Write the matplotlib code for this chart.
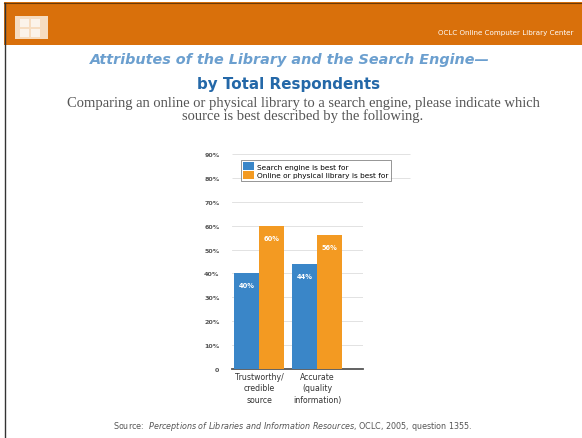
import matplotlib.pyplot as plt
from matplotlib.patches import Rectangle

categories = ['Trustworthy/\ncredible\nsource', 'Accurate\n(quality\ninformation)']
search_engine = [40, 44]
library = [60, 56]
series_names = ['Search engine is best for', 'Online or physical library is best for']
yticks = [0, 10, 20, 30, 40, 50, 60, 70, 80, 90]
ytick_labels = ['0'] + ['%d%%' % t for t in yticks[1:]]

W, H = 582, 439
fig = plt.figure(figsize=(W / 100, H / 100), dpi=100)
fig.patch.set_facecolor('white')

def px(x, y):
    return x / W, 1 - y / H

# header band
fig.patches.append(Rectangle(px(4, 46), (W - 4) / W, 43 / H, transform=fig.transFigure,
                             facecolor='#d9700b', edgecolor='none', zorder=0))
fig.add_artist(plt.Line2D([4 / W, 1], [1 - 3.5 / H] * 2, color='#6b3a08', lw=0.8))
fig.add_artist(plt.Line2D([5 / W, 5 / W], [0, 1 - 4 / H], color='#333333', lw=1.0))
fig.patches.append(Rectangle(px(15, 40), 33 / W, 23 / H, transform=fig.transFigure,
                             facecolor='#f6dcc0', edgecolor='none', zorder=1))
for gx in (20, 31):
    for gy in (20, 30):
        fig.patches.append(Rectangle(px(gx, gy + 8), 9 / W, 8 / H, transform=fig.transFigure,
                                     facecolor='#fbf3ea', edgecolor='none', zorder=2))
fig.text(*px(574, 33), 'OCLC Online Computer Library Center', color='white',
         fontsize=5.1, ha='right', va='center')

# titles
fig.text(*px(290, 60), 'Attributes of the Library and the Search Engine\u2014', color='#6b9fcf',
         fontsize=10.4, fontweight='bold', style='italic', ha='center', va='center')
fig.text(*px(289, 84), 'by Total Respondents', color='#2468a8',
         fontsize=10.9, fontweight='bold', ha='center', va='center')
fig.text(*px(303, 110), 'Comparing an online or physical library to a search engine, please indicate which\n'
         'source is best described by the following.', color='#555555', family='Liberation Serif',
         fontsize=10.5, ha='center', va='center', linespacing=0.95)

# chart
ax = fig.add_axes([232 / W, 1 - 370 / H, 131 / W, 215 / H])
x = [0, 1]
bw = 0.43
b1 = ax.bar([i - bw / 2 for i in x], search_engine, bw, color='#3a86c8', label=series_names[0], zorder=3)
b2 = ax.bar([i + bw / 2 for i in x], library, bw, color='#f39a22', label=series_names[1], zorder=3)
for bars, vals in ((b1, search_engine), (b2, library)):
    for b, v in zip(bars, vals):
        ax.text(b.get_x() + b.get_width() / 2, v - 5, '%d%%' % v, color='white',
                fontsize=4.8, fontweight='bold', ha='center', va='center', zorder=4)

ax.set_xlim(-0.466, 1.79)
ax.set_ylim(0, 90)
ax.set_yticks(yticks)
ax.set_yticklabels(ytick_labels, fontsize=4.6, fontweight='bold', color='#555555')
ax.set_xticks(x)
ax.set_xticklabels(categories, fontsize=5.6, color='#333333', linespacing=1.35)
ax.tick_params(axis='both', length=0)
ax.tick_params(axis='y', pad=9)
ax.tick_params(axis='x', pad=2)
for s in ('top', 'right', 'left'):
    ax.spines[s].set_visible(False)
ax.spines['bottom'].set_color('#555555')
ax.spines['bottom'].set_linewidth(1.3)
for t in yticks[1:8]:
    ax.axhline(t, color='#dddddd', lw=0.6, zorder=1)
ax.hlines([80, 90], -0.466, 2.6, color='#dddddd', lw=0.6, zorder=1, clip_on=False)

leg = ax.legend(loc='upper left', bbox_to_anchor=((241 - 232) / 131, (370 - 161) / 215),
                fontsize=5.3, frameon=True, fancybox=False, handlelength=1.4, handleheight=1.3,
                borderpad=0.3, labelspacing=0.1, handletextpad=0.5, borderaxespad=0)
leg.get_frame().set_edgecolor('#666666')
leg.get_frame().set_linewidth(0.6)

fig.text(*px(293, 427), 'Source:  $\\it{Perceptions\\ of\\ Libraries\\ and\\ Information\\ Resources}$, OCLC, 2005, question 1355.',
         color='#555555', fontsize=5.8, ha='center', va='center')

fig.savefig('out.png', dpi=100)
